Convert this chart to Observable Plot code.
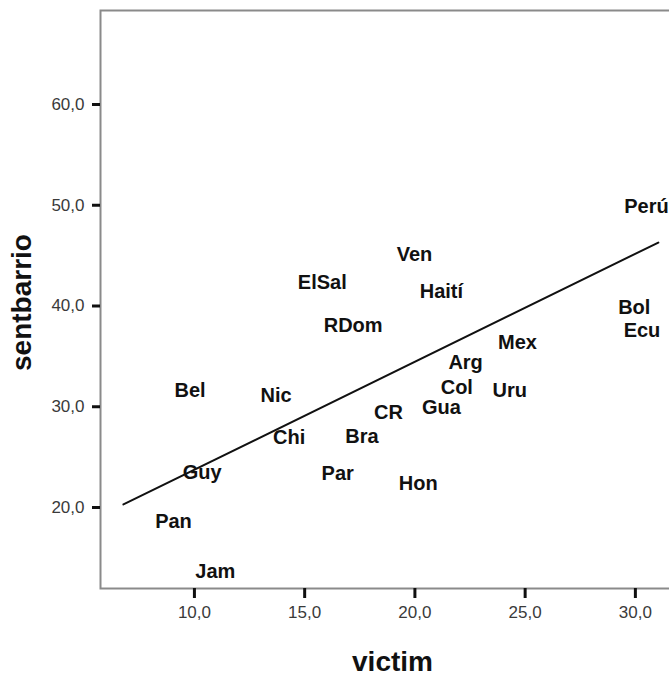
<!DOCTYPE html>
<html>
<head>
<meta charset="utf-8">
<script src="https://cdn.jsdelivr.net/npm/d3@7"></script>
<script src="https://cdn.jsdelivr.net/npm/@observablehq/plot@0.6"></script>
<style>
  html, body { margin: 0; padding: 0; background: white; overflow: hidden; width: 669px; height: 679px; }
  #chart { width: 669px; height: 679px; overflow: hidden; }
</style>
</head>
<body>
<div id="chart"></div>
<script>
// Country labels (point positions)
const countries = ["Perú","Ven","ElSal","Haití","RDom","Bol","Ecu","Mex","Arg","Col","Uru","Gua","CR","Bel","Nic","Chi","Bra","Guy","Par","Hon","Pan","Jam"];
const victim =    [30.5, 19.98, 15.8, 21.2, 17.2, 29.95, 30.3, 24.65, 22.3, 21.9, 24.3, 21.2, 18.8, 9.8, 13.7, 14.3, 17.6, 10.35, 16.5, 20.15, 9.05, 10.95];
const sentbarrio = [49.9, 45.1, 42.3, 41.4, 38.1, 39.8, 37.6, 36.4, 34.4, 31.9, 31.6, 29.9, 29.4, 31.6, 31.1, 26.9, 27.0, 23.5, 23.4, 22.4, 18.6, 13.6];

// Fitted line end points
const fitVictim = [6.78, 31.04];
const fitSentbarrio = [20.3, 46.3];

// Axis ticks
const xTicks = [10, 15, 20, 25, 30];
const xTickLabels = ["10,0", "15,0", "20,0", "25,0", "30,0"];
const yTicks = [20, 30, 40, 50, 60];
const yTickLabels = ["20,0", "30,0", "40,0", "50,0", "60,0"];

const points = countries.map((c, i) => ({country: c, victim: victim[i], sentbarrio: sentbarrio[i]}));
const fit = fitVictim.map((v, i) => ({victim: v, sentbarrio: fitSentbarrio[i]}));

const font = "'Liberation Sans', Arial, Helvetica, sans-serif";

const chart = Plot.plot({
  width: 690,
  height: 679,
  marginLeft: 100,
  marginRight: 0,
  marginTop: 10,
  marginBottom: 91,
  style: {fontFamily: font, maxWidth: "none", overflow: "hidden", background: "white"},
  x: {domain: [5.74, 32.5]},
  y: {domain: [11.96, 69.33]},
  marks: [
    Plot.frame({stroke: "#8a8a8a", strokeWidth: 2}),
    Plot.axisX({
      ticks: xTicks,
      tickFormat: d => xTickLabels[xTicks.indexOf(d)],
      tickSize: 10, tickPadding: 7, strokeWidth: 3, stroke: "#111",
      fill: "#3a3a3a", fontSize: 17, label: null
    }),
    Plot.axisY({
      ticks: yTicks,
      tickFormat: d => yTickLabels[yTicks.indexOf(d)],
      tickSize: 8, tickPadding: 8, strokeWidth: 3, stroke: "#111",
      fill: "#3a3a3a", fontSize: 17, label: null
    }),
    Plot.line(fit, {x: "victim", y: "sentbarrio", stroke: "#111", strokeWidth: 2}),
    Plot.text(points, {x: "victim", y: "sentbarrio", text: "country", fontSize: 20, fontWeight: "bold", fill: "#111"}),
    Plot.text(["victim"], {frameAnchor: "bottom", dx: -3, dy: 74, lineAnchor: "middle", fontSize: 28, fontWeight: "bold", fill: "#111"}),
    Plot.text(["sentbarrio"], {frameAnchor: "left", textAnchor: "middle", dx: -78, dy: 3, rotate: -90, lineAnchor: "middle", fontSize: 28, fontWeight: "bold", fill: "#111"})
  ]
});
document.getElementById("chart").appendChild(chart);
</script>
</body>
</html>
